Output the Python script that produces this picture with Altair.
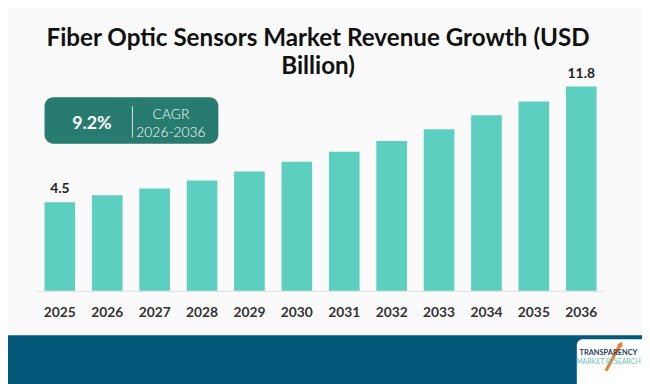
import altair as alt
import pandas as pd

# ---- data -------------------------------------------------------------
years = ["2025", "2026", "2027", "2028", "2029", "2030",
         "2031", "2032", "2033", "2034", "2035", "2036"]
revenue = [4.5, 4.93, 5.37, 5.87, 6.43, 7.06, 7.68, 8.37, 9.11, 9.99, 10.86, 11.8]
value_labels = ["4.5", "", "", "", "", "", "", "", "", "", "", "11.8"]

title_lines = ["Fiber Optic Sensors Market Revenue Growth (USD", "Billion)"]
cagr_value = "9.2%"
cagr_label = "CAGR"
cagr_period = "2026-2036"
logo_top = "TRANSPARENCY"
logo_bottom = "MARKET RESEARCH"

# ---- styles -----------------------------------------------------------
BAR = "#5ccfc0"
BOX = "#277b6f"
BANNER = "#04587a"
BG = "#fafafa"
FONT = "Lato"

Y_MIN, Y_MAX = -1.1, 12.125
W, H = 576, 212

df = pd.DataFrame({"year": years, "revenue": revenue, "label": value_labels})
one = pd.DataFrame({"k": [0]})

x_enc = alt.X(
    "year:O",
    scale=alt.Scale(paddingInner=0.354, paddingOuter=0.177),
    axis=alt.Axis(
        title=None, ticks=False, tickSize=0, labelAngle=0,
        labelFont=FONT, labelFontWeight="bold", labelFontSize=14,
        labelColor="#333333", labelPadding=22, labelBaseline="middle",
        domainColor="#dddddd", domainWidth=1,
    ),
)
y_enc = alt.Y("revenue:Q",
              scale=alt.Scale(domain=[Y_MIN, Y_MAX], zero=False, nice=False),
              axis=None)

base = alt.Chart(df)
bars = base.mark_bar(color=BAR).encode(x=x_enc, y=y_enc, y2=alt.datum(Y_MIN))
labels = base.mark_text(dy=-13, font=FONT, fontWeight="bold", fontSize=14,
                        color="#222222").encode(x=x_enc, y=y_enc, text="label:N")

deco = alt.Chart(one)

title1 = deco.mark_text(text=title_lines[0], font=FONT, fontWeight="bold",
                        fontSize=24.5, color="#111111", align="center",
                        baseline="middle").encode(x=alt.value(285.5), y=alt.value(-43))
title2 = deco.mark_text(text=title_lines[1], font=FONT, fontWeight="bold",
                        fontSize=24.5, color="#111111", align="center",
                        baseline="middle").encode(x=alt.value(285.5), y=alt.value(-15))

box = deco.mark_rect(color=BOX, cornerRadius=9).encode(
    x=alt.value(8.5), x2=alt.value(184.5), y=alt.value(16), y2=alt.value(63))
divider = deco.mark_rule(color="#ffffff", strokeWidth=1, opacity=0.8).encode(
    x=alt.value(97.5), y=alt.value(25), y2=alt.value(57))
t_val = deco.mark_text(text=cagr_value, font=FONT, fontWeight="bold", fontSize=18,
                       color="#ffffff", align="center", baseline="middle").encode(
    x=alt.value(56.5), y=alt.value(43))
t_lab = deco.mark_text(text=cagr_label, font=FONT, fontWeight=300, fontSize=14,
                       color="#ffffff", align="center", baseline="middle").encode(
    x=alt.value(136.5), y=alt.value(34))
t_per = deco.mark_text(text=cagr_period, font=FONT, fontWeight=300, fontSize=14,
                       color="#ffffff", align="center", baseline="middle").encode(
    x=alt.value(136.5), y=alt.value(52))

banner = deco.mark_rect(color=BANNER).encode(
    x=alt.value(-40), x2=alt.value(640), y=alt.value(257), y2=alt.value(320))
logo = deco.mark_rect(color="#ffffff", cornerRadius=6).encode(
    x=alt.value(547.5), x2=alt.value(640), y=alt.value(261), y2=alt.value(330))
arrow = deco.mark_rule(color="#f07a2a", strokeWidth=3).encode(
    x=alt.value(577), y=alt.value(293), x2=alt.value(591), y2=alt.value(267))
arrow_head = deco.mark_point(shape="triangle-up", filled=True, color="#f07a2a",
                             size=40, angle=28, opacity=1).encode(
    x=alt.value(592), y=alt.value(266))
logo1 = deco.mark_text(text=logo_top, font=FONT, fontWeight="bold", fontSize=7.5,
                       color="#1d3d5e", align="center", baseline="middle").encode(
    x=alt.value(579.5), y=alt.value(275))
logo2 = deco.mark_text(text=logo_bottom, font=FONT, fontSize=7, color="#6cc3b6",
                       align="center", baseline="middle").encode(
    x=alt.value(579.5), y=alt.value(284))

chart = alt.layer(
    banner, logo, arrow, arrow_head, logo1, logo2,
    bars, labels, title1, title2, box, divider, t_val, t_lab, t_per,
).properties(
    width=W, height=H,
    padding={"left": 28.5, "top": 72, "right": 37.5, "bottom": 92},
    autosize=alt.AutoSizeParams(type="none"),
    background=BG,
).configure_view(stroke=None)

chart.save("out.html", embed_options={"renderer": "svg", "actions": False})
